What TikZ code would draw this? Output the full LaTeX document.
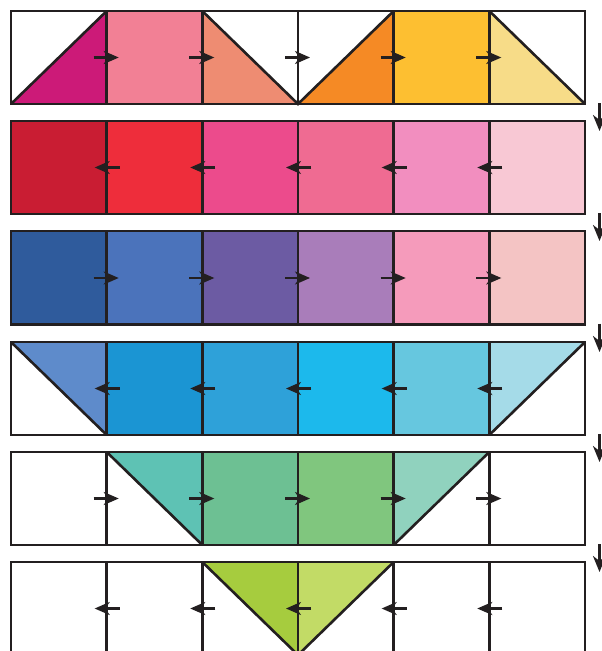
\documentclass[tikz,border=0pt]{standalone}
\usetikzlibrary{arrows.meta}
\definecolor{ink}{HTML}{231F20}
\definecolor{ca1}{HTML}{CC1A78}\definecolor{ca2}{HTML}{F28095}\definecolor{ca3}{HTML}{EE8C72}
\definecolor{ca4}{HTML}{F58A25}\definecolor{ca5}{HTML}{FDBF31}\definecolor{ca6}{HTML}{F7DC88}
\definecolor{cb1}{HTML}{C91D33}\definecolor{cb2}{HTML}{EE2D3B}\definecolor{cb3}{HTML}{EC4B8C}
\definecolor{cb4}{HTML}{EF6B92}\definecolor{cb5}{HTML}{F28EBF}\definecolor{cb6}{HTML}{F8C8D4}
\definecolor{cc1}{HTML}{2F5B9C}\definecolor{cc2}{HTML}{4B73BB}\definecolor{cc3}{HTML}{6C5BA3}
\definecolor{cc4}{HTML}{A97DBA}\definecolor{cc5}{HTML}{F59BBB}\definecolor{cc6}{HTML}{F4C4C4}
\definecolor{cd1}{HTML}{5E8BCB}\definecolor{cd2}{HTML}{1B95D3}\definecolor{cd3}{HTML}{2EA1D9}
\definecolor{cd4}{HTML}{1CB9EC}\definecolor{cd5}{HTML}{66C7DF}\definecolor{cd6}{HTML}{A5DBE8}
\definecolor{ce2}{HTML}{5EC2B4}\definecolor{ce3}{HTML}{6DC093}\definecolor{ce4}{HTML}{80C67E}
\definecolor{ce5}{HTML}{90D2BE}
\definecolor{cf3}{HTML}{A6CC3E}\definecolor{cf4}{HTML}{C2DB66}
\begin{document}
\begin{tikzpicture}[x=1pt,y=-1pt,
  grid/.style={draw=ink,line width=2.6pt,line join=miter},
  arr/.style={draw=ink,line width=2.2pt,-{Stealth[length=15pt,width=13pt,inset=4.5pt]}},
  downarr/.style={draw=ink,line width=2.4pt,-{Stealth[length=16pt,width=13pt,inset=5pt]}}]
\useasboundingbox (0,0) rectangle (602,651);
\clip (0,0) rectangle (602,651);
\fill[white] (0,0) rectangle (602,651);
% Row 1
\fill[ca1] (11,104) -- (106.7,11) -- (106.7,104) -- cycle;
\fill[ca2] (106.7,11) rectangle (202.3,104);
\fill[ca3] (202.3,11) -- (298,104) -- (202.3,104) -- cycle;
\fill[ca4] (298,104) -- (393.7,11) -- (393.7,104) -- cycle;
\fill[ca5] (393.7,11) rectangle (489.3,104);
\fill[ca6] (489.3,11) -- (585,104) -- (489.3,104) -- cycle;
% Row 2
\fill[cb1] (11,121) rectangle (106.7,214);
\fill[cb2] (106.7,121) rectangle (202.3,214);
\fill[cb3] (202.3,121) rectangle (298,214);
\fill[cb4] (298,121) rectangle (393.7,214);
\fill[cb5] (393.7,121) rectangle (489.3,214);
\fill[cb6] (489.3,121) rectangle (585,214);
% Row 3
\fill[cc1] (11,231) rectangle (106.7,324.5);
\fill[cc2] (106.7,231) rectangle (202.3,324.5);
\fill[cc3] (202.3,231) rectangle (298,324.5);
\fill[cc4] (298,231) rectangle (393.7,324.5);
\fill[cc5] (393.7,231) rectangle (489.3,324.5);
\fill[cc6] (489.3,231) rectangle (585,324.5);
% Row 4
\fill[cd1] (11,342) -- (106.7,342) -- (106.7,435) -- cycle;
\fill[cd2] (106.7,342) rectangle (202.3,435);
\fill[cd3] (202.3,342) rectangle (298,435);
\fill[cd4] (298,342) rectangle (393.7,435);
\fill[cd5] (393.7,342) rectangle (489.3,435);
\fill[cd6] (489.3,342) -- (585,342) -- (489.3,435) -- cycle;
% Row 5
\fill[ce2] (106.7,452) -- (202.3,452) -- (202.3,545) -- cycle;
\fill[ce3] (202.3,452) rectangle (298,545);
\fill[ce4] (298,452) rectangle (393.7,545);
\fill[ce5] (393.7,452) -- (489.3,452) -- (393.7,545) -- cycle;
% Row 6
\fill[cf3] (202.3,562) -- (298,562) -- (298,655) -- cycle;
\fill[cf4] (298,562) -- (393.7,562) -- (298,655) -- cycle;
% Grid
\foreach \t/\b in {11/104,121/214,231/324.5,342/435,452/545,562/655}{
  \draw[grid] (11,\t) rectangle (585,\b);
  \foreach \x in {106.7,202.3,298,393.7,489.3} \draw[grid] (\x,\t) -- (\x,\b);
}
% Diagonals
\draw[grid] (11,104) -- (106.7,11);
\draw[grid] (202.3,11) -- (298,104) -- (393.7,11);
\draw[grid] (489.3,11) -- (585,104);
\draw[grid] (11,342) -- (106.7,435);
\draw[grid] (585,342) -- (489.3,435);
\draw[grid] (106.7,452) -- (202.3,545);
\draw[grid] (489.3,452) -- (393.7,545);
\draw[grid] (202.3,562) -- (298,655) -- (393.7,562);
% Horizontal arrows
\foreach \y/\d in {57.5/1,167.5/-1,278/1,388.5/-1,498.5/1,608.5/-1}{
  \foreach \x in {106.7,202.3,298,393.7,489.3}
    \draw[arr] ({\x-13*\d},\y) -- ({\x+12*\d},\y);
}
% Down arrows
\foreach \a/\b in {104/121,214/231,324.5/342,435/452,545/562}
  \draw[downarr] (599.5,\a-1) -- (599.5,\b+10);
\end{tikzpicture}
\end{document}
